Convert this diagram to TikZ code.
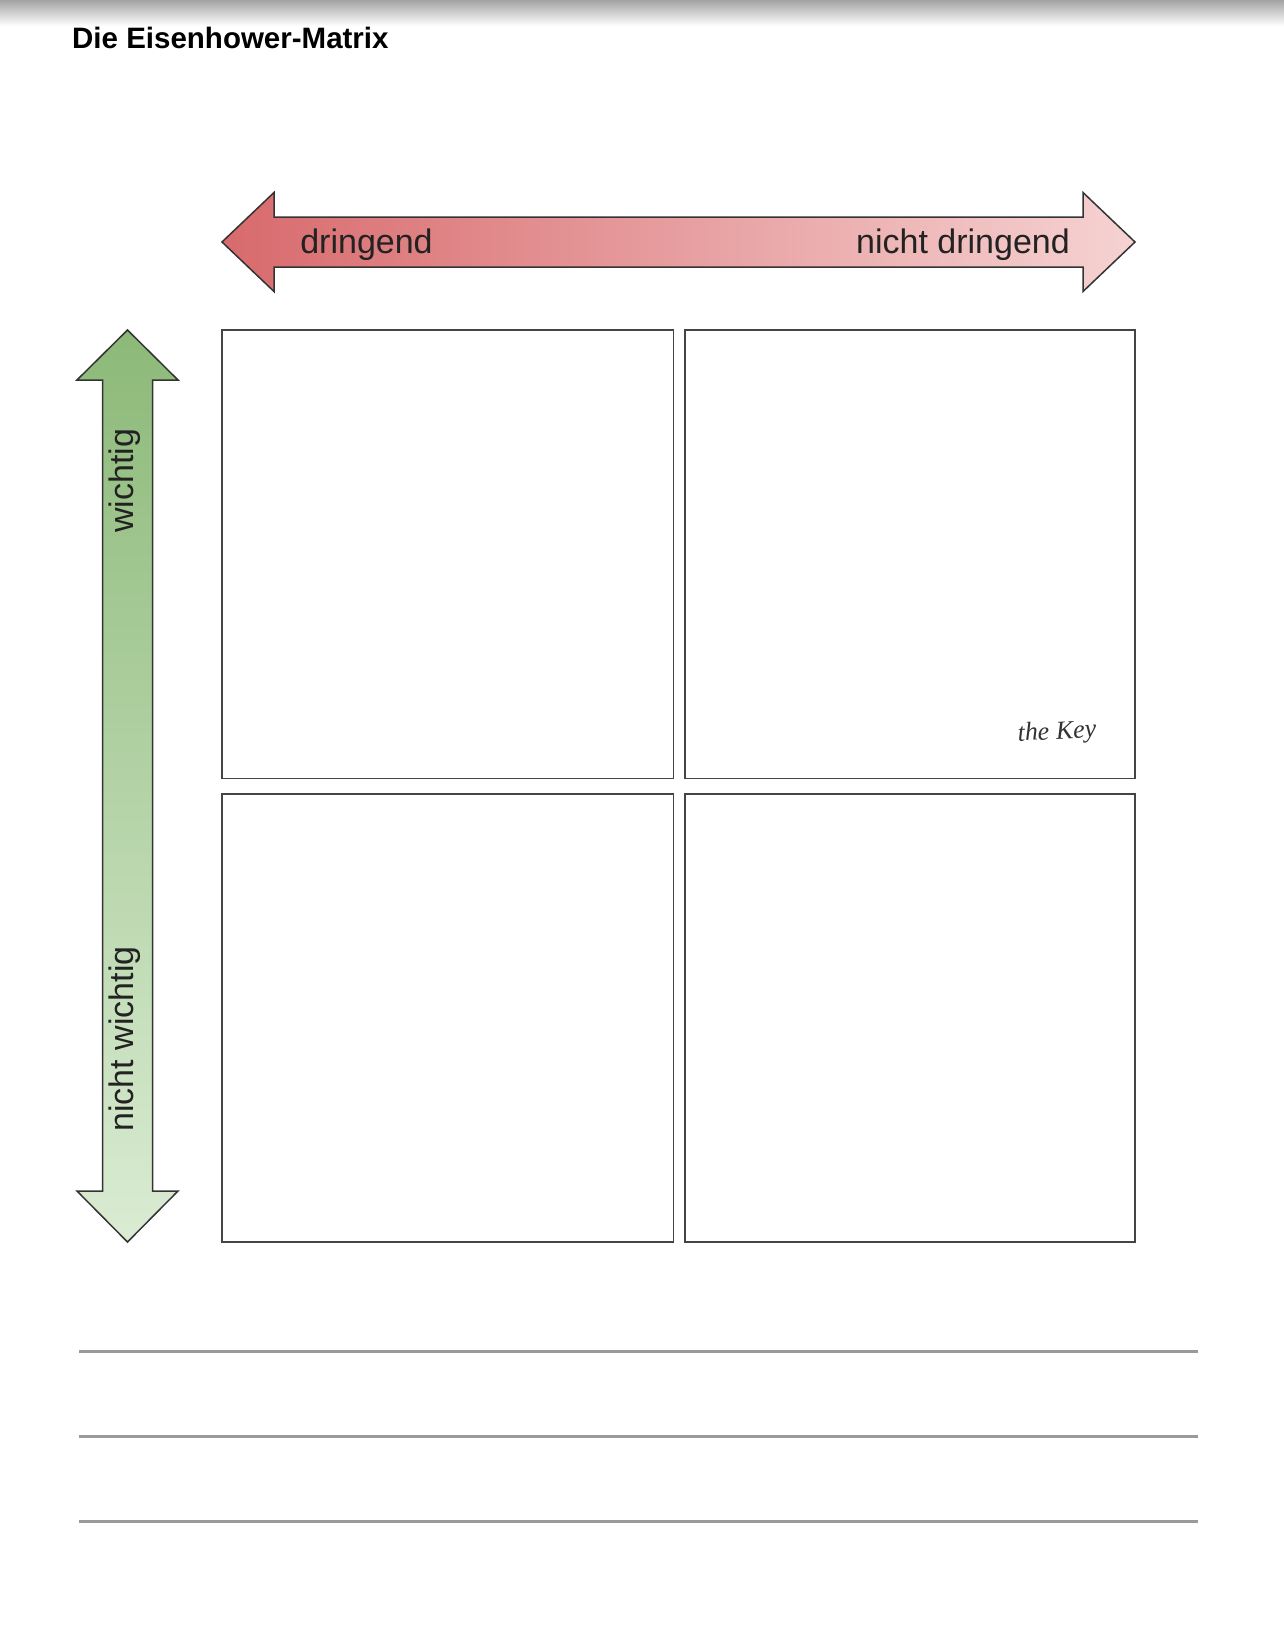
\documentclass[tikz,border=0pt]{standalone}
\usepackage{fontspec}
\setmainfont{Liberation Sans}
\newfontfamily\sigfont{Liberation Serif}
\definecolor{redL}{HTML}{D86A6D}
\definecolor{redR}{HTML}{F6D2D2}
\definecolor{greenT}{HTML}{8CB978}
\definecolor{greenB}{HTML}{DAECD3}
\definecolor{outline}{HTML}{333333}
\definecolor{boxline}{HTML}{444444}
\definecolor{rule}{HTML}{9A9A9A}
\definecolor{txt}{HTML}{222222}
\begin{document}
\begin{tikzpicture}[x=1pt,y=-1pt,
  arrowshape/.style={draw=outline,line width=1.5pt,line join=miter},
  quadrant/.style={draw=boxline,line width=1.8pt,fill=white},
  axislabel/.style={font=\fontsize{34}{36}\selectfont,text=txt,inner sep=0pt},
  writeline/.style={draw=rule,line width=2.2pt}]
\useasboundingbox (0,0) rectangle (1284,1647);
\fill[white] (0,0) rectangle (1284,1647);
% top shadow
\shade[top color=black!36,bottom color=white] (0,0) rectangle (1284,26);
% title
\node[anchor=base west,inner sep=0pt,font=\fontsize{29.5}{31}\selectfont\bfseries] (title) at (72,48) {Die Eisenhower-Matrix};
% horizontal arrow
\path[arrowshape,left color=redL,right color=redR]
  (222,242) -- (274,192.5) -- (274,217) -- (1083,217) -- (1083,192.5) -- (1135,242)
  -- (1083,291.5) -- (1083,267) -- (274,267) -- (274,291.5) -- cycle;
\node[axislabel,anchor=base] (dr) at (366.5,253) {dringend};
\node[axislabel,anchor=base] (ndr) at (963,253) {nicht dringend};
% vertical arrow
\path[arrowshape,top color=greenT,bottom color=greenB]
  (127.5,330) -- (178,380) -- (152.5,380) -- (152.5,1191) -- (178,1191) -- (127.5,1242)
  -- (77,1191) -- (102.5,1191) -- (102.5,380) -- (77,380) -- cycle;
\node[axislabel,rotate=90,anchor=base] (wi) at (133.5,481) {wichtig};
\node[axislabel,rotate=90,anchor=base] (nwi) at (133.5,1039) {nicht wichtig};
% quadrants
\path[quadrant] (222,330) rectangle (673.5,778.5);
\path[quadrant] (685,330) rectangle (1135,778.5);
\path[quadrant] (222,794) rectangle (673.5,1242);
\path[quadrant] (685,794) rectangle (1135,1242);
% signature
\node[inner sep=0pt,font=\sigfont\itshape\fontsize{26}{28}\selectfont,text=black!80,rotate=3] (sig) at (1057,733) {the Key};
% writing lines
\foreach \y/\n in {1351.5/a,1436.5/b,1521.5/c}{
  \coordinate (l\n1) at (79,\y);
  \coordinate (l\n2) at (1198,\y);
  \draw[writeline] (l\n1) -- (l\n2);
}
\end{tikzpicture}
\end{document}
